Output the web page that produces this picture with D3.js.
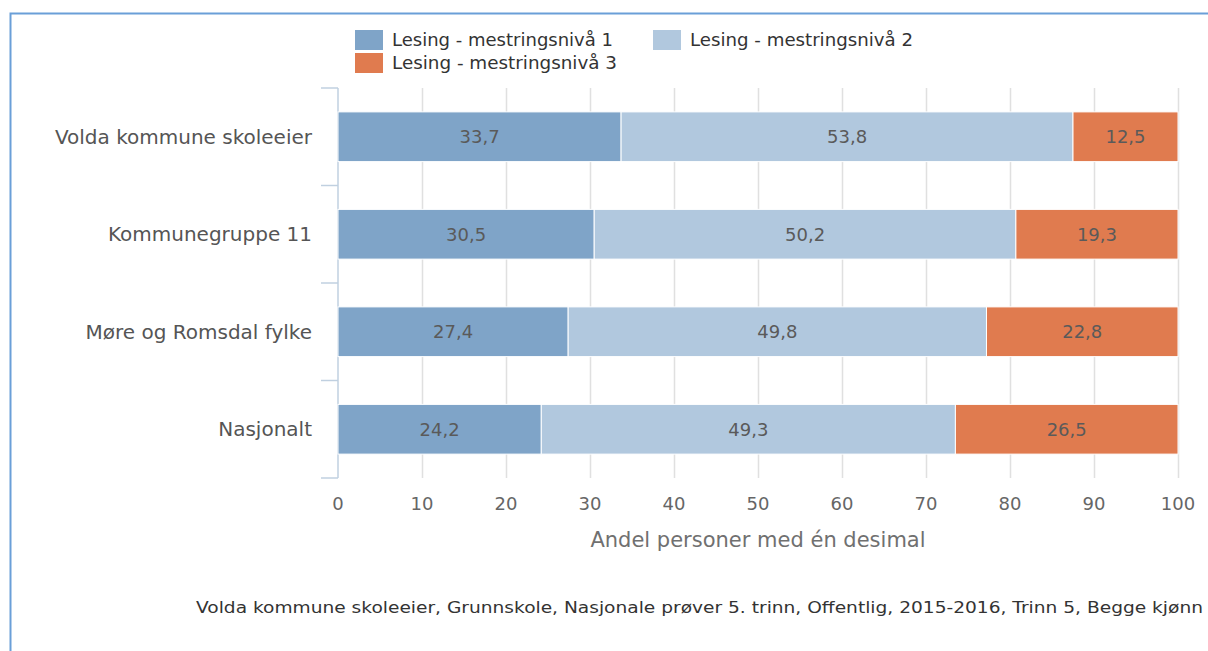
<!DOCTYPE html>
<html>
<head>
<meta charset="utf-8">
<script src="https://cdn.jsdelivr.net/npm/d3@7"></script>
<style>
  body { margin: 0; background: #fff; }
  svg { display: block; font-family: "DejaVu Sans", Verdana, sans-serif; }
</style>
</head>
<body>
<svg id="chart" width="1208" height="651"></svg>
<script>
// data
var categories = ["Volda kommune skoleeier", "Kommunegruppe 11", "Møre og Romsdal fylke", "Nasjonalt"];
var seriesNames = ["Lesing - mestringsnivå 1", "Lesing - mestringsnivå 2", "Lesing - mestringsnivå 3"];
var level1 = [33.7, 30.5, 27.4, 24.2];
var level2 = [53.8, 50.2, 49.8, 49.3];
var level3 = [12.5, 19.3, 22.8, 26.5];
var xTicks = [0, 10, 20, 30, 40, 50, 60, 70, 80, 90, 100];
var colors = ["#7fa4c8", "#b1c8de", "#e07b4f"];
var footnote = "Volda kommune skoleeier, Grunnskole, Nasjonale prøver 5. trinn, Offentlig, 2015-2016, Trinn 5, Begge kjønn";

var width = 1208, height = 651;
var svg = d3.select("#chart");

// frame
svg.append("path")
    .attr("d", "M10.5,651 V13.5 H1208")
    .attr("fill", "none")
    .attr("stroke", "#6a9fd8")
    .attr("stroke-width", 2);

var x = d3.scaleLinear().domain([0, 100]).range([338, 1178]);
var y = d3.scaleBand().domain(categories).range([88, 478]).paddingInner(0.49).paddingOuter(0.245);

// gridlines
svg.append("g").selectAll("line")
    .data(xTicks.slice(1))
    .join("line")
    .attr("x1", d => x(d) + 0.5).attr("x2", d => x(d) + 0.5)
    .attr("y1", 88).attr("y2", 478)
    .attr("stroke", "#e0e0e0").attr("stroke-width", 1.5);

// y axis line + ticks
var yAxis = svg.append("g").attr("stroke", "#c0d0e0").attr("stroke-width", 1.5);
yAxis.append("line").attr("x1", 338).attr("x2", 338).attr("y1", 88).attr("y2", 478);
var edges = d3.range(categories.length + 1).map(i => 88 + i * (390 / categories.length));
yAxis.selectAll("line.tick")
    .data(edges)
    .join("line").attr("class", "tick")
    .attr("x1", 321).attr("x2", 338)
    .attr("y1", d => d).attr("y2", d => d);

// stacked data
var rows = categories.map((c, i) => ({cat: c, s0: level1[i], s1: level2[i], s2: level3[i]}));
var stack = d3.stack().keys(["s0", "s1", "s2"]);
var layers = stack(rows);

var g = svg.append("g");
layers.forEach((layer, li) => {
  g.append("g").selectAll("rect")
    .data(layer)
    .join("rect")
    .attr("x", d => x(d[0]))
    .attr("y", d => y(d.data.cat))
    .attr("width", d => x(d[1]) - x(d[0]))
    .attr("height", y.bandwidth())
    .attr("fill", colors[li])
    .attr("stroke", "#fff")
    .attr("stroke-width", 1);
  g.append("g").selectAll("text")
    .data(layer)
    .join("text")
    .attr("x", d => (x(d[0]) + x(d[1])) / 2)
    .attr("y", d => y(d.data.cat) + y.bandwidth() / 2)
    .attr("dy", "0.35em")
    .attr("text-anchor", "middle")
    .attr("font-size", 18)
    .attr("fill", "#5a5a5a")
    .text(d => d3.format(".1f")(d[1] - d[0]).replace(".", ","));
});

// category labels
svg.append("g").selectAll("text")
    .data(categories)
    .join("text")
    .attr("x", 312)
    .attr("y", d => y(d) + y.bandwidth() / 2)
    .attr("dy", "0.35em")
    .attr("text-anchor", "end")
    .attr("font-size", 20)
    .attr("fill", "#555")
    .text(d => d);

// x axis tick labels
svg.append("g").selectAll("text")
    .data(xTicks)
    .join("text")
    .attr("x", d => x(d))
    .attr("y", 510)
    .attr("text-anchor", "middle")
    .attr("font-size", 18)
    .attr("fill", "#666")
    .text(d => d);

svg.append("text")
    .attr("x", 758).attr("y", 547)
    .attr("text-anchor", "middle")
    .attr("font-size", 21)
    .attr("fill", "#707070")
    .text("Andel personer med én desimal");

// legend
var legendPos = [[355, 30], [653, 30], [355, 53]];
var legendLen = [221, 223, 225];
var leg = svg.append("g").selectAll("g")
    .data(seriesNames)
    .join("g")
    .attr("transform", (d, i) => "translate(" + legendPos[i][0] + "," + legendPos[i][1] + ")");
leg.append("rect").attr("width", 28).attr("height", 20).attr("fill", (d, i) => colors[i]);
leg.append("text")
    .attr("x", 37).attr("y", 10).attr("dy", "0.35em")
    .attr("font-size", 17)
    .attr("fill", "#333")
    .attr("textLength", (d, i) => legendLen[i])
    .attr("lengthAdjust", "spacingAndGlyphs")
    .text(d => d);

// footnote
svg.append("text")
    .attr("x", 196).attr("y", 613)
    .attr("font-size", 16)
    .attr("fill", "#333")
    .attr("textLength", 1007)
    .attr("lengthAdjust", "spacingAndGlyphs")
    .text(footnote);
</script>
</body>
</html>
